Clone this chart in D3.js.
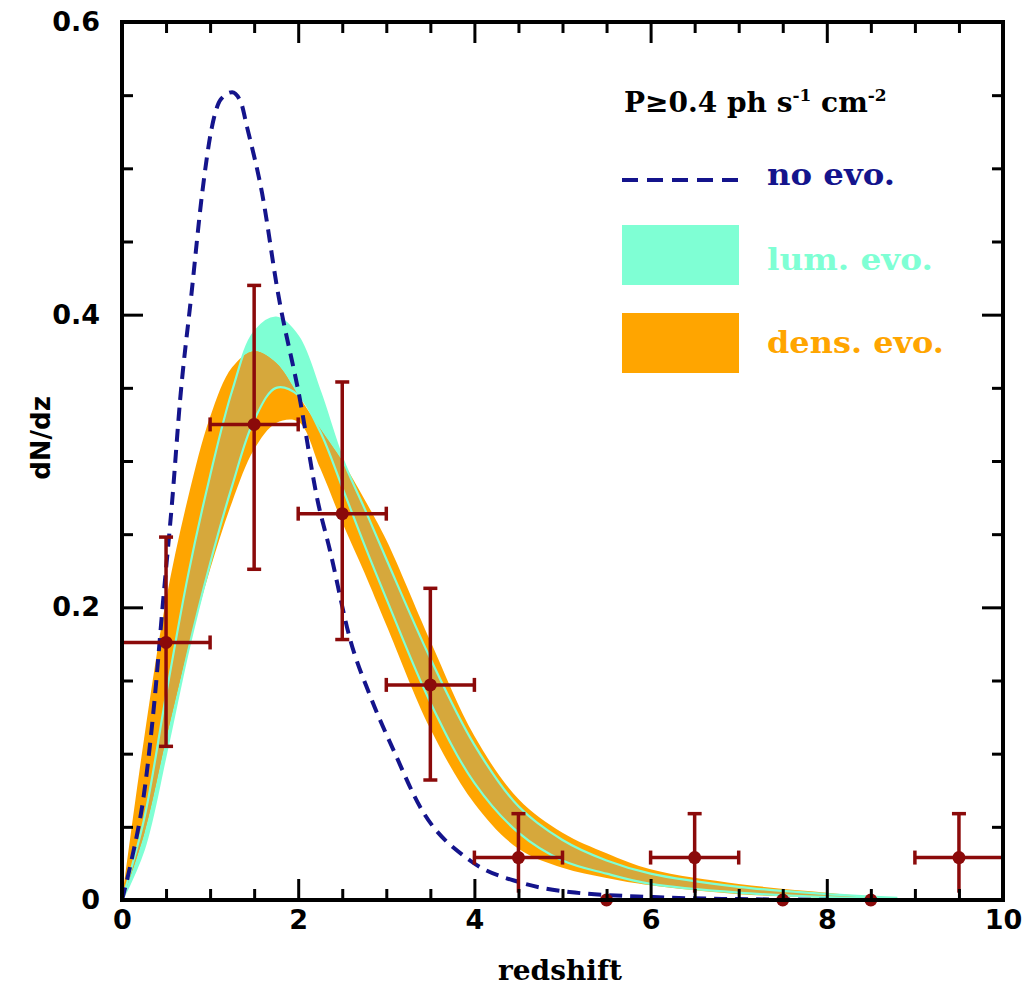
<!DOCTYPE html>
<html>
<head>
<meta charset="utf-8">
<script src="https://cdn.jsdelivr.net/npm/d3@7"></script>
<style>
  body { margin: 0; background: #fff; }
  svg { display: block; }
</style>
</head>
<body>
<svg id="chart" width="1025" height="987"></svg>
<script>
// ---- data ----
const xMajorTicks = [0, 2, 4, 6, 8, 10];
const yMajorTicks = [0, 0.2, 0.4, 0.6];

// no evolution model (dashed)
const noEvoZ = [0, 0.1, 0.26, 0.37, 0.46, 0.57, 0.66, 0.79, 0.91, 1.02, 1.12, 1.25, 1.35, 1.42, 1.59, 1.77, 2.02, 2.22, 2.36, 2.59, 2.82, 3.1, 3.38, 3.95, 4.52, 5.08, 6.03, 7.0, 8.0];
const noEvoV = [0, 0.025, 0.077, 0.137, 0.2, 0.273, 0.342, 0.415, 0.483, 0.528, 0.547, 0.552, 0.545, 0.528, 0.483, 0.415, 0.342, 0.273, 0.239, 0.178, 0.139, 0.1, 0.064, 0.027, 0.012, 0.0055, 0.002, 0.0006, 0.0002];

// bands (shared redshift grid)
const bandZ   = [0, 0.25, 0.5, 0.75, 1.0, 1.25, 1.5, 1.75, 2.0, 2.25, 2.5, 2.75, 3.0, 3.5, 4.0, 4.5, 5.0, 5.5, 6.0, 7.0, 8.0, 8.8];
const lumHi   = [0, 0.055, 0.14, 0.222, 0.29, 0.348, 0.388, 0.398, 0.385, 0.347, 0.302, 0.268, 0.233, 0.165, 0.106, 0.064, 0.041, 0.027, 0.018, 0.009, 0.004, 0.0015];
const lumLo   = [0, 0.035, 0.10, 0.17, 0.23, 0.283, 0.328, 0.350, 0.345, 0.320, 0.282, 0.243, 0.206, 0.135, 0.080, 0.046, 0.027, 0.018, 0.011, 0.005, 0.002, 0.0008];
const densHi  = [0, 0.11, 0.205, 0.275, 0.33, 0.364, 0.375, 0.367, 0.345, 0.322, 0.300, 0.274, 0.246, 0.177, 0.112, 0.069, 0.046, 0.032, 0.021, 0.011, 0.005, 0.0005];
const densLo  = [0, 0.045, 0.11, 0.172, 0.226, 0.272, 0.308, 0.326, 0.327, 0.295, 0.258, 0.224, 0.188, 0.117, 0.066, 0.035, 0.022, 0.015, 0.010, 0.004, 0.0015, 0];

// observed points
const obsZ   = [0.5, 1.5, 2.5, 3.5, 4.5, 5.5, 6.5, 7.5, 8.5, 9.5];
const obsV   = [0.176, 0.325, 0.264, 0.147, 0.029, 0, 0.029, 0, 0, 0.029];
const obsLo  = [0.105, 0.226, 0.178, 0.082, 0.005, 0, 0.005, 0, 0, 0.005];
const obsHi  = [0.248, 0.42, 0.354, 0.213, 0.059, 0, 0.059, 0, 0, 0.059];
const obsBin = 0.5;

const legendLabels = ["no evo.", "lum. evo.", "dens. evo."];

// ---- colours ----
const navy = "#14148c";
const aqua = "#7fffd4";
const orange = "#ffa500";
const gold = "#d6a83c";
const red = "#8b0a0a";

const svg = d3.select("#chart");

const xScale = d3.scaleLinear().domain([0, 10]).range([122, 1003]);
const yScale = d3.scaleLinear().domain([0, 0.6]).range([900, 22]);

const band = (hi, lo) => bandZ.map((z, i) => ({z: z, hi: hi[i], lo: lo[i]}));
const area = d3.area()
    .x(d => xScale(d.z))
    .y0(d => yScale(d.lo))
    .y1(d => yScale(d.hi))
    .curve(d3.curveCatmullRom);
const edge = key => d3.line()
    .x(d => xScale(d.z))
    .y(d => yScale(d[key]))
    .curve(d3.curveCatmullRom);

const lumBand = band(lumHi, lumLo);
const densBand = band(densHi, densLo);

svg.append("defs").append("clipPath")
   .attr("id", "densClip")
   .append("path")
   .attr("d", area(densBand));

svg.append("path").attr("d", area(lumBand)).attr("fill", aqua);
svg.append("path").attr("d", area(densBand)).attr("fill", orange);
svg.append("path").attr("d", area(lumBand)).attr("fill", gold).attr("clip-path", "url(#densClip)");

["hi", "lo"].forEach(k => {
  svg.append("path")
     .attr("d", edge(k)(lumBand))
     .attr("fill", "none")
     .attr("stroke", aqua)
     .attr("stroke-width", 2.2);
});

// no evo dashed line
const noEvo = noEvoZ.map((z, i) => ({z: z, v: noEvoV[i]}));
svg.append("path")
   .attr("d", d3.line().x(d => xScale(d.z)).y(d => yScale(d.v)).curve(d3.curveMonotoneX)(noEvo))
   .attr("fill", "none")
   .attr("stroke", navy)
   .attr("stroke-width", 4)
   .attr("stroke-dasharray", "13,8");

// observed points with error bars
const obs = obsZ.map((z, i) => ({z: z, v: obsV[i], lo: obsLo[i], hi: obsHi[i]}));
const withErr = obs.filter(d => d.v > 0);
const eb = svg.append("g").attr("stroke", red).attr("stroke-width", 3.5);
eb.selectAll(".vbar").data(withErr).enter().append("line")
  .attr("x1", d => xScale(d.z)).attr("x2", d => xScale(d.z))
  .attr("y1", d => yScale(d.lo)).attr("y2", d => yScale(d.hi));
eb.selectAll(".hbar").data(withErr).enter().append("line")
  .attr("x1", d => xScale(d.z - obsBin)).attr("x2", d => xScale(d.z + obsBin))
  .attr("y1", d => yScale(d.v)).attr("y2", d => yScale(d.v));
// caps
eb.selectAll(".capT").data(withErr).enter().append("line")
  .attr("x1", d => xScale(d.z) - 7).attr("x2", d => xScale(d.z) + 7)
  .attr("y1", d => yScale(d.hi)).attr("y2", d => yScale(d.hi));
eb.selectAll(".capB").data(withErr.filter(d => d.lo > 0.02)).enter().append("line")
  .attr("x1", d => xScale(d.z) - 7).attr("x2", d => xScale(d.z) + 7)
  .attr("y1", d => yScale(d.lo)).attr("y2", d => yScale(d.lo));
eb.selectAll(".capL").data(withErr).enter().append("line")
  .attr("x1", d => xScale(d.z - obsBin)).attr("x2", d => xScale(d.z - obsBin))
  .attr("y1", d => yScale(d.v) - 7).attr("y2", d => yScale(d.v) + 7);
eb.selectAll(".capR").data(withErr).enter().append("line")
  .attr("x1", d => xScale(d.z + obsBin)).attr("x2", d => xScale(d.z + obsBin))
  .attr("y1", d => yScale(d.v) - 7).attr("y2", d => yScale(d.v) + 7);

svg.selectAll(".pt").data(obs).enter().append("circle")
   .attr("cx", d => xScale(d.z))
   .attr("cy", d => yScale(d.v))
   .attr("r", 6.5)
   .attr("fill", red);

// ---- axes: ticks inward on all four sides ----
const xMinor = d3.range(0, 10.001, 0.5).filter(v => !xMajorTicks.includes(v));
const yMinor = d3.range(0, 0.6001, 0.05).map(v => +v.toFixed(2)).filter(v => !yMajorTicks.includes(v));
const yFmt = d => d === 0 ? "0" : d3.format(".1f")(d);

function styleAxis(g) {
  g.select(".domain").remove();
  g.selectAll(".tick line").attr("stroke", "#000").attr("stroke-width", 3);
  g.selectAll("text")
   .attr("fill", "#000")
   .style("font-family", "DejaVu Sans")
   .style("font-weight", "bold")
   .style("font-size", "27px");
}

svg.append("g").attr("transform", "translate(0,900)")
   .call(d3.axisBottom(xScale).tickValues(xMajorTicks).tickSize(-21).tickPadding(10).tickFormat(d3.format("d")))
   .call(styleAxis);
svg.append("g").attr("transform", "translate(0,900)")
   .call(d3.axisBottom(xScale).tickValues(xMinor).tickSize(-11).tickFormat(""))
   .call(styleAxis);
svg.append("g").attr("transform", "translate(0,22)")
   .call(d3.axisTop(xScale).tickValues(xMajorTicks).tickSize(-21).tickFormat(""))
   .call(styleAxis);
svg.append("g").attr("transform", "translate(0,22)")
   .call(d3.axisTop(xScale).tickValues(xMinor).tickSize(-11).tickFormat(""))
   .call(styleAxis);

svg.append("g").attr("transform", "translate(122,0)")
   .call(d3.axisLeft(yScale).tickValues(yMajorTicks).tickSize(-21).tickPadding(22).tickFormat(yFmt))
   .call(styleAxis);
svg.append("g").attr("transform", "translate(122,0)")
   .call(d3.axisLeft(yScale).tickValues(yMinor).tickSize(-11).tickFormat(""))
   .call(styleAxis);
svg.append("g").attr("transform", "translate(1003,0)")
   .call(d3.axisRight(yScale).tickValues(yMajorTicks).tickSize(-21).tickFormat(""))
   .call(styleAxis);
svg.append("g").attr("transform", "translate(1003,0)")
   .call(d3.axisRight(yScale).tickValues(yMinor).tickSize(-11).tickFormat(""))
   .call(styleAxis);

// frame
svg.append("rect")
   .attr("x", 122).attr("y", 22)
   .attr("width", 1003 - 122).attr("height", 900 - 22)
   .attr("fill", "none").attr("stroke", "#000").attr("stroke-width", 4);

// axis titles
svg.append("text")
   .attr("x", 560).attr("y", 980)
   .attr("text-anchor", "middle")
   .style("font-family", "DejaVu Serif").style("font-weight", "bold").style("font-size", "28px")
   .text("redshift");
svg.append("text")
   .attr("transform", "translate(50,438) rotate(-90)")
   .attr("text-anchor", "middle")
   .style("font-family", "DejaVu Sans").style("font-weight", "bold").style("font-size", "26px")
   .text("dN/dz");

// ---- legend ----
const title = svg.append("text")
   .attr("x", 624).attr("y", 112)
   .style("font-family", "DejaVu Serif").style("font-weight", "bold").style("font-size", "28px")
   .attr("fill", "#000");
title.append("tspan").text("P≥0.4 ph s");
title.append("tspan").attr("dy", -11).style("font-size", "17px").text("-1");
title.append("tspan").attr("dy", 11).text(" cm");
title.append("tspan").attr("dy", -11).style("font-size", "17px").text("-2");

svg.append("line")
   .attr("x1", 622).attr("x2", 740).attr("y1", 180).attr("y2", 180)
   .attr("stroke", navy).attr("stroke-width", 4).attr("stroke-dasharray", "16,9");
svg.append("rect").attr("x", 622).attr("y", 225).attr("width", 117).attr("height", 60).attr("fill", aqua);
svg.append("rect").attr("x", 622).attr("y", 313).attr("width", 117).attr("height", 60).attr("fill", orange);

const legendY = [185, 270, 353];
const legendW = [128, 166, 177];
const legendC = [navy, aqua, orange];
legendLabels.forEach((t, i) => {
  svg.append("text")
     .attr("x", 767).attr("y", legendY[i])
     .attr("textLength", legendW[i]).attr("lengthAdjust", "spacingAndGlyphs")
     .style("font-family", "DejaVu Serif").style("font-weight", "bold").style("font-size", "30px")
     .attr("fill", legendC[i])
     .text(t);
});
</script>
</body>
</html>
